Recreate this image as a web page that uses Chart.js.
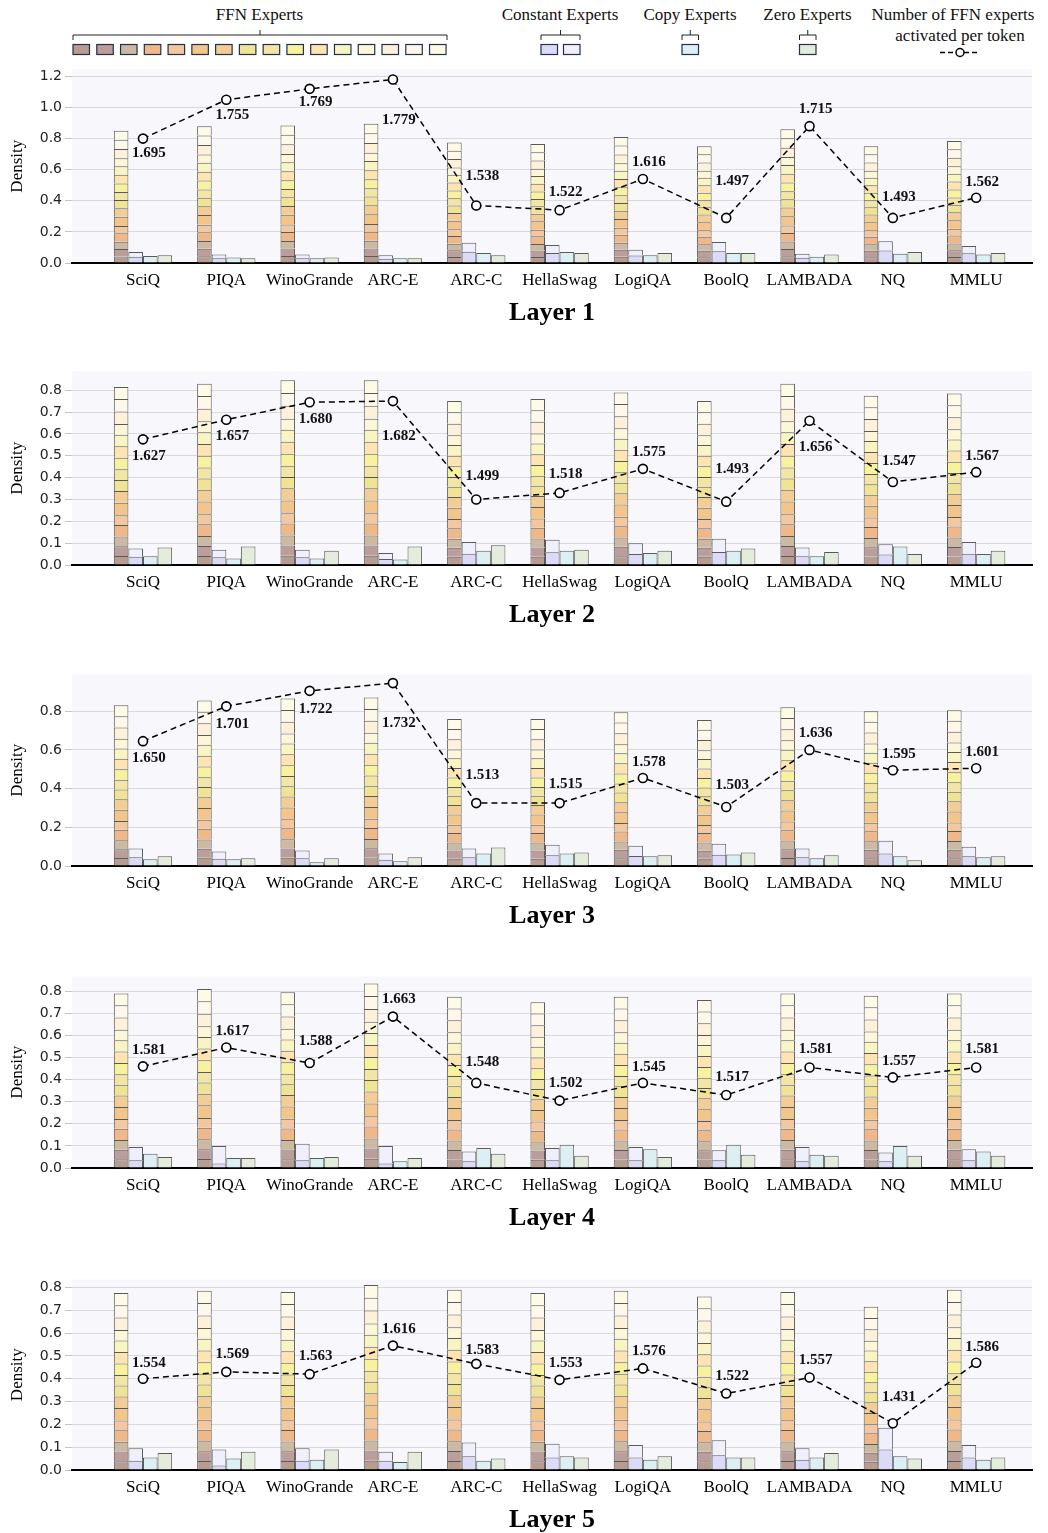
<!DOCTYPE html>
<html>
<head>
<meta charset="utf-8">
<script src="https://cdn.jsdelivr.net/npm/chart.js@4.4.1/dist/chart.umd.min.js"></script>
<style>
    html, body { margin: 0; padding: 0; background: #fff; width: 1048px; height: 1533px; overflow: hidden; }
    .panel { position: absolute; left: 0; width: 1048px; }
    #legend { position: absolute; left: 0; top: 0; font-family: 'Liberation Serif', serif; font-size: 17px; }
</style>
</head>
<body>
<svg id="legend" width="1048" height="62"></svg>
<div id="panels"></div>
<script>
// benchmarks on the x axis
var categories = ['SciQ', 'PIQA', 'WinoGrande', 'ARC-E', 'ARC-C', 'HellaSwag', 'LogiQA', 'BoolQ', 'LAMBADA', 'NQ', 'MMLU'];

// share of each of the 16 FFN experts inside an FFN bar (bottom -> top)
var ffnShare = [0.05, 0.055, 0.055, 0.065, 0.055, 0.07, 0.065, 0.062, 0.06, 0.065, 0.065, 0.065, 0.06, 0.07, 0.07, 0.068];

// Layer 1
var ffnTotal1 = [0.85, 0.88, 0.885, 0.895, 0.775, 0.765, 0.81, 0.75, 0.86, 0.75, 0.785];
var constA1 = [0.04, 0.03, 0.03, 0.028, 0.072, 0.065, 0.048, 0.075, 0.034, 0.08, 0.062];
var constB1 = [0.03, 0.025, 0.025, 0.022, 0.058, 0.05, 0.037, 0.06, 0.026, 0.06, 0.048];
var copy1 = [0.045, 0.035, 0.03, 0.03, 0.065, 0.07, 0.05, 0.065, 0.04, 0.06, 0.055];
var zero1 = [0.05, 0.03, 0.035, 0.03, 0.05, 0.065, 0.065, 0.065, 0.055, 0.07, 0.065];
var lineLevel1 = [0.80, 1.05, 1.12, 1.18, 0.37, 0.34, 0.54, 0.29, 0.88, 0.29, 0.42];
var experts1 = [1.695, 1.755, 1.769, 1.779, 1.538, 1.522, 1.616, 1.497, 1.715, 1.493, 1.562];

// Layer 2
var ffnTotal2 = [0.815, 0.83, 0.845, 0.845, 0.75, 0.76, 0.79, 0.75, 0.83, 0.775, 0.785];
var constA2 = [0.038, 0.035, 0.035, 0.028, 0.052, 0.058, 0.05, 0.06, 0.04, 0.048, 0.052];
var constB2 = [0.037, 0.035, 0.035, 0.027, 0.053, 0.057, 0.05, 0.06, 0.04, 0.047, 0.053];
var copy2 = [0.04, 0.03, 0.03, 0.025, 0.065, 0.065, 0.055, 0.065, 0.04, 0.085, 0.05];
var zero2 = [0.08, 0.085, 0.065, 0.085, 0.09, 0.07, 0.065, 0.075, 0.06, 0.05, 0.065];
var lineLevel2 = [0.575, 0.665, 0.745, 0.75, 0.30, 0.33, 0.44, 0.29, 0.66, 0.38, 0.425];
var experts2 = [1.627, 1.657, 1.680, 1.682, 1.499, 1.518, 1.575, 1.493, 1.656, 1.547, 1.567];

// Layer 3
var ffnTotal3 = [0.83, 0.855, 0.865, 0.87, 0.76, 0.76, 0.795, 0.755, 0.82, 0.80, 0.805];
var constA3 = [0.045, 0.038, 0.04, 0.032, 0.045, 0.055, 0.052, 0.058, 0.045, 0.065, 0.05];
var constB3 = [0.045, 0.037, 0.04, 0.033, 0.045, 0.055, 0.053, 0.057, 0.045, 0.065, 0.05];
var copy3 = [0.035, 0.035, 0.02, 0.025, 0.065, 0.065, 0.05, 0.06, 0.04, 0.05, 0.045];
var zero3 = [0.05, 0.04, 0.04, 0.045, 0.095, 0.07, 0.055, 0.07, 0.055, 0.03, 0.05];
var lineLevel3 = [0.645, 0.825, 0.905, 0.945, 0.325, 0.325, 0.455, 0.305, 0.60, 0.495, 0.505];
var experts3 = [1.650, 1.701, 1.722, 1.732, 1.513, 1.515, 1.578, 1.503, 1.636, 1.595, 1.601];

// Layer 4
var ffnTotal4 = [0.79, 0.81, 0.795, 0.835, 0.775, 0.75, 0.775, 0.76, 0.79, 0.78, 0.79];
var constA4 = [0.035, 0.02, 0.035, 0.02, 0.03, 0.035, 0.035, 0.035, 0.03, 0.03, 0.035];
var constB4 = [0.06, 0.08, 0.075, 0.08, 0.045, 0.055, 0.06, 0.045, 0.065, 0.04, 0.05];
var copy4 = [0.065, 0.045, 0.045, 0.03, 0.09, 0.105, 0.085, 0.105, 0.06, 0.10, 0.075];
var zero4 = [0.05, 0.045, 0.05, 0.045, 0.065, 0.055, 0.05, 0.06, 0.055, 0.055, 0.055];
var lineLevel4 = [0.46, 0.545, 0.475, 0.685, 0.385, 0.305, 0.385, 0.33, 0.455, 0.41, 0.455];
var experts4 = [1.581, 1.617, 1.588, 1.663, 1.548, 1.502, 1.545, 1.517, 1.581, 1.557, 1.581];

// Layer 5
var ffnTotal5 = [0.775, 0.785, 0.78, 0.81, 0.79, 0.775, 0.785, 0.76, 0.78, 0.715, 0.79];
var constA5 = [0.04, 0.02, 0.04, 0.04, 0.06, 0.055, 0.055, 0.065, 0.045, 0.09, 0.055];
var constB5 = [0.055, 0.07, 0.055, 0.04, 0.06, 0.06, 0.055, 0.065, 0.05, 0.095, 0.055];
var copy5 = [0.055, 0.05, 0.045, 0.035, 0.04, 0.06, 0.045, 0.055, 0.055, 0.06, 0.045];
var zero5 = [0.075, 0.08, 0.09, 0.08, 0.05, 0.055, 0.06, 0.055, 0.075, 0.05, 0.055];
var lineLevel5 = [0.40, 0.43, 0.42, 0.545, 0.465, 0.395, 0.445, 0.335, 0.405, 0.205, 0.47];
var experts5 = [1.554, 1.569, 1.563, 1.616, 1.583, 1.553, 1.576, 1.522, 1.557, 1.431, 1.586];

// y axis ticks per layer
var yTicks = [
    [0, 0.2, 0.4, 0.6, 0.8, 1.0, 1.2],
    [0, 0.1, 0.2, 0.3, 0.4, 0.5, 0.6, 0.7, 0.8],
    [0, 0.2, 0.4, 0.6, 0.8],
    [0, 0.1, 0.2, 0.3, 0.4, 0.5, 0.6, 0.7, 0.8],
    [0, 0.1, 0.2, 0.3, 0.4, 0.5, 0.6, 0.7, 0.8]
];
var yMax = [1.245, 0.886, 0.99, 0.867, 0.835];

var layers = [
    { ffn: ffnTotal1, constA: constA1, constB: constB1, copy: copy1, zero: zero1, line: lineLevel1, experts: experts1 },
    { ffn: ffnTotal2, constA: constA2, constB: constB2, copy: copy2, zero: zero2, line: lineLevel2, experts: experts2 },
    { ffn: ffnTotal3, constA: constA3, constB: constB3, copy: copy3, zero: zero3, line: lineLevel3, experts: experts3 },
    { ffn: ffnTotal4, constA: constA4, constB: constB4, copy: copy4, zero: zero4, line: lineLevel4, experts: experts4 },
    { ffn: ffnTotal5, constA: constA5, constB: constB5, copy: copy5, zero: zero5, line: lineLevel5, experts: experts5 }
];

// layout / style
var ffnColors = ['#b79c91', '#bb9d99', '#cbb9a2', '#efb888', '#f3c7a0', '#f2c58a', '#f3cd96', '#f0e393',
                 '#f2e5a6', '#f8f29c', '#fde4b1', '#f9f5c2', '#fdf7d9', '#fdf1da', '#fdf8ea', '#fdfae6'];
var constColors = ['#dbdbf8', '#f0f0fd'];
var copyColor = '#dcf0f3';
var zeroColor = '#e4ecdc';
var plotTop = [68, 370, 673, 975, 1278];
var plotH = [195, 195, 193, 193, 192];
var labelDy = [
    [15, 15, 13, 41, -29, -18, -17, -37, -17, -21, -16],
    [17, 16, 17, 35, -23, -19, -17, -33, 26, -21, -16],
    [17, 18, 18, 40, -28, -19, -16, -22, -17, -16, -16],
    [-16, -16, -22, -17, -21, -17, -16, -18, -18, -16, -18],
    [-16, -18, -18, -16, -14, -17, -17, -17, -17, -26, -16]
];
var padTop = 10;
var xAxisH = 66;

// ---------- legend ----------
(function () {
    var s = '';
    function txt(x, y, t) {
        s += '<text x="' + x + '" y="' + y + '" text-anchor="middle" fill="#111">' + t + '</text>';
    }
    function box(x, col) {
        s += '<rect x="' + x + '" y="44.5" width="16.5" height="10" fill="' + col + '" stroke="#22304e" stroke-width="1.2"/>';
    }
    function bracket(x1, x2) {
        var m = (x1 + x2) / 2;
        s += '<path d="M' + x1 + ',40 V35 H' + x2 + ' V40 M' + m + ',35 V30" fill="none" stroke="#222" stroke-width="1"/>';
    }
    txt(259.5, 20, 'FFN Experts');
    bracket(73, 447);
    for (var j = 0; j < 16; j++) box(73 + j * 23.77, ffnColors[j]);

    txt(560, 20, 'Constant Experts');
    bracket(541, 580);
    box(541, constColors[0]);
    box(563.5, constColors[1]);

    txt(690, 20, 'Copy Experts');
    bracket(682, 698.5);
    box(682, copyColor);

    txt(807.5, 20, 'Zero Experts');
    bracket(799.5, 816);
    box(799.5, zeroColor);

    txt(953, 20, 'Number of FFN experts');
    txt(960, 41, 'activated per token');
    s += '<path d="M940,52.5 H980" stroke="#000" stroke-width="1.5" stroke-dasharray="5,3"/>';
    s += '<circle cx="960" cy="52.5" r="4" fill="#fff" stroke="#000" stroke-width="1.5"/>';
    document.getElementById('legend').innerHTML = s;
})();

var bgPlugin = {
    id: 'bg',
    beforeDraw: function (chart) {
        var a = chart.chartArea, c = chart.ctx;
        c.save();
        c.fillStyle = '#f8f8fc';
        c.fillRect(a.left, a.top, a.right - a.left, a.bottom - a.top);
        c.restore();
    }
};

function makeLayer(k) {
    var L = layers[k];
    var h = padTop + plotH[k] + xAxisH + 4;
    var wrap = document.createElement('div');
    wrap.className = 'panel';
    wrap.style.top = (plotTop[k] - padTop) + 'px';
    var cv = document.createElement('canvas');
    cv.width = 1048;
    cv.height = h;
    cv.style.width = '1048px';
    cv.style.height = h + 'px';
    wrap.appendChild(cv);
    document.getElementById('panels').appendChild(wrap);

    function pts(arr) {
        return arr.map(function (v, i) { return { x: i, y: v }; });
    }
    var barStyle = { borderColor: 'rgba(50,50,50,0.8)', borderWidth: 1, order: 1, categoryPercentage: 0.7, barPercentage: 1.0 };

    var datasets = [];
    for (let j = 0; j < 16; j++) {
        datasets.push(Object.assign({
            label: 'FFN ' + (j + 1),
            stack: 'ffn',
            data: L.ffn.map(function (t, i) { return { x: i, y: t * ffnShare[j] }; }),
            backgroundColor: ffnColors[j]
        }, barStyle));
    }
    datasets.push(Object.assign({ label: 'Constant 1', stack: 'const', data: pts(L.constA), backgroundColor: constColors[0] }, barStyle));
    datasets.push(Object.assign({ label: 'Constant 2', stack: 'const', data: pts(L.constB), backgroundColor: constColors[1] }, barStyle));
    datasets.push(Object.assign({ label: 'Copy', stack: 'copy', data: pts(L.copy), backgroundColor: copyColor }, barStyle));
    datasets.push(Object.assign({ label: 'Zero', stack: 'zero', data: pts(L.zero), backgroundColor: zeroColor }, barStyle));
    datasets.push({
        type: 'line',
        label: 'Number of FFN experts activated per token',
        stack: 'line',
        data: pts(L.line),
        borderColor: '#000',
        borderWidth: 1.5,
        borderDash: [6, 4],
        pointRadius: 4.5,
        pointBackgroundColor: '#fff',
        pointBorderColor: '#000',
        pointBorderWidth: 1.6,
        fill: false,
        tension: 0,
        order: 0
    });

    var valuePlugin = {
        id: 'values',
        afterDatasetsDraw: function (chart) {
            var meta = chart.getDatasetMeta(chart.data.datasets.length - 1);
            var c = chart.ctx;
            c.save();
            c.font = 'bold 15px "Liberation Serif"';
            c.fillStyle = '#111';
            c.textAlign = 'center';
            c.textBaseline = 'middle';
            meta.data.forEach(function (p, i) {
                c.fillText(L.experts[i].toFixed(3), p.x + 6, p.y + labelDy[k][i]);
            });
            c.restore();
        }
    };

    new Chart(cv, {
        type: 'bar',
        data: { datasets: datasets },
        plugins: [bgPlugin, valuePlugin],
        options: {
            responsive: false,
            animation: false,
            layout: { padding: { top: padTop, right: 16, left: 0, bottom: 4 } },
            plugins: { legend: { display: false }, tooltip: { enabled: false } },
            scales: {
                x: {
                    type: 'linear',
                    offset: false,
                    min: -0.852,
                    max: 10.67,
                    grid: { display: false, drawTicks: false },
                    border: { display: true, color: '#000', width: 2 },
                    afterBuildTicks: function (s) {
                        s.ticks = categories.map(function (c, i) { return { value: i }; });
                    },
                    afterFit: function (s) { s.height = xAxisH; },
                    ticks: {
                        callback: function (v) { return categories[v]; },
                        font: { family: 'Liberation Serif', size: 17 },
                        color: '#000',
                        padding: 7,
                        maxRotation: 0,
                        autoSkip: false
                    },
                    title: {
                        display: true,
                        text: 'Layer ' + (k + 1),
                        font: { family: 'Liberation Serif', size: 26, weight: 'bold' },
                        color: '#000',
                        padding: 0
                    }
                },
                y: {
                    stacked: true,
                    min: 0,
                    max: yMax[k],
                    afterBuildTicks: function (s) {
                        s.ticks = yTicks[k].map(function (v) { return { value: v }; });
                    },
                    afterFit: function (s) { s.width = 72; },
                    grid: { color: '#dadada', lineWidth: 1, tickLength: 7, tickColor: '#c4c4c4' },
                    border: { display: false },
                    ticks: {
                        font: { family: 'DejaVu Sans', size: 14 },
                        color: '#222',
                        padding: 3,
                        callback: function (v) { return v.toFixed(1); }
                    },
                    title: {
                        display: true,
                        text: 'Density',
                        font: { family: 'Liberation Serif', size: 17 },
                        color: '#000',
                        padding: { top: 7, bottom: 0 }
                    }
                }
            }
        }
    });
}

for (var k = 0; k < 5; k++) makeLayer(k);
</script>
</body>
</html>
